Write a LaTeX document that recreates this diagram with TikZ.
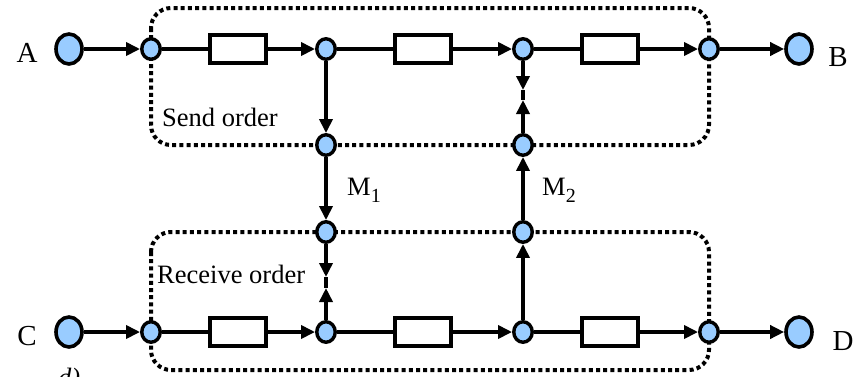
\documentclass[tikz,border=0pt]{standalone}
\usepackage{fontspec}
\setmainfont{Liberation Serif}
\usepackage{xcolor}
\usetikzlibrary{shapes.geometric,arrows.meta,backgrounds}
\definecolor{portblue}{RGB}{153,204,255}

\tikzset{
  big/.style={ellipse, draw, line width=3.6pt, fill=portblue, minimum width=26pt, minimum height=30pt, inner sep=0pt},
  port/.style={ellipse, draw, line width=3.4pt, fill=portblue, minimum width=18.5pt, minimum height=20.5pt, inner sep=0pt},
  blk/.style={draw, line width=3.4pt, fill=white, minimum width=56pt, minimum height=28pt, inner sep=0pt},
  wire/.style={line width=3.8pt},
  flow/.style={line width=3.8pt, -{Triangle[length=14pt,width=13pt]}},
  grp/.style={line width=4pt, dash pattern=on 4pt off 3.2pt, rounded corners=20pt},
  lbl/.style={font=\fontsize{29}{32}\selectfont, inner sep=0pt},
  txt/.style={font=\fontsize{26.5}{30}\selectfont, inner sep=0pt}
}
\newcommand{\msub}[1]{M\raisebox{-0.3em}{\fontsize{20}{20}\selectfont #1}}

\begin{document}
\begin{tikzpicture}[x=1pt,y=-1pt]
  \useasboundingbox (0,0) rectangle (860,376);

  % send order row
  \node[lbl] (la) at (27,53) {A};
  \node[big] (a) at (69,49) {};
  \node[port] (s1) at (151,49) {};
  \node[blk] (b1) at (238,49) {};
  \node[port] (s2) at (326,49) {};
  \node[blk] (b2) at (423,49) {};
  \node[port] (s3) at (523,49) {};
  \node[blk] (b3) at (610,49) {};
  \node[port] (s4) at (709,49) {};
  \node[big] (b) at (799,49) {};
  \node[lbl] (lb) at (838,57) {B};

  % messages
  \node[port] (m1a) at (326,145) {};
  \node[port] (m1b) at (326,232) {};
  \node[port] (m2a) at (523,145) {};
  \node[port] (m2b) at (523,232) {};
  \node[txt, anchor=base west] (lm1) at (347,195) {\msub{1}};
  \node[txt, anchor=base west] (lm2) at (542,195) {\msub{2}};

  % receive order row
  \node[lbl] (lc) at (27,336) {C};
  \node[big] (c) at (69,332) {};
  \node[port] (r1) at (151,332) {};
  \node[blk] (k1) at (238,332) {};
  \node[port] (r2) at (326,332) {};
  \node[blk] (k2) at (423,332) {};
  \node[port] (r3) at (523,332) {};
  \node[blk] (k3) at (610,332) {};
  \node[port] (r4) at (709,332) {};
  \node[big] (d) at (799,332) {};
  \node[lbl] (ld) at (843,341) {D};

  \node[txt, anchor=base west] (send) at (162,126) {Send order};
  \node[txt, anchor=base west] (recv) at (157,283) {Receive order};
  \node[txt, anchor=base west] (cap) at (58,386) {\itshape d)};

  \coordinate (up1) at (523,90);
  \coordinate (up2) at (523,100);
  \coordinate (lo1) at (326,277);
  \coordinate (lo2) at (326,288);

  \begin{scope}[on background layer]
    \draw[grp] (151,8) rectangle (709,145);
    \draw[grp] (151,232) rectangle (709,370);
  \end{scope}

  \draw[flow] (a) -- (s1);
  \draw[wire] (s1) -- (b1);
  \draw[flow] (b1) -- (s2);
  \draw[wire] (s2) -- (b2);
  \draw[flow] (b2) -- (s3);
  \draw[wire] (s3) -- (b3);
  \draw[flow] (b3) -- (s4);
  \draw[flow] (s4) -- (b);

  \draw[flow] (c) -- (r1);
  \draw[wire] (r1) -- (k1);
  \draw[flow] (k1) -- (r2);
  \draw[wire] (r2) -- (k2);
  \draw[flow] (k2) -- (r3);
  \draw[wire] (r3) -- (k3);
  \draw[flow] (k3) -- (r4);
  \draw[flow] (r4) -- (d);

  \draw[flow] (s2) -- (m1a);
  \draw[flow] (m1a) -- (m1b);
  \draw[flow] (m1b) -- (lo1);
  \draw[wire] (lo1) -- (lo2);
  \draw[flow] (r2) -- (lo2);

  \draw[flow] (r3) -- (m2b);
  \draw[flow] (m2b) -- (m2a);
  \draw[flow] (m2a) -- (up2);
  \draw[wire] (up2) -- (up1);
  \draw[flow] (s3) -- (up1);
\end{tikzpicture}
\end{document}
